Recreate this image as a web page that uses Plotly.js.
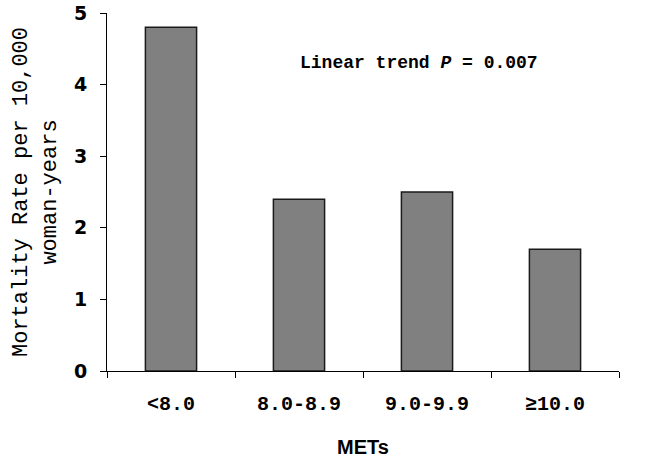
<!DOCTYPE html>
<html>
<head>
<meta charset="utf-8">
<script src="https://cdn.plot.ly/plotly-3.0.1.min.js"></script>
<style>html,body{margin:0;padding:0;background:#fff;}</style>
</head>
<body>
<div id="chart" style="width:659px;height:462px;"></div>
<script>
const categories = ["<8.0", "8.0-8.9", "9.0-9.9", "≥10.0"];
const tickLabels = ["&lt;8.0", "8.0-8.9", "9.0-9.9", "≥10.0"];
const mortality = [4.8, 2.4, 2.5, 1.7];
const yTicks = [0, 1, 2, 3, 4, 5];

const data = [{
  type: "bar",
  x: categories,
  y: mortality,
  width: 0.4,
  marker: {color: "#808080", line: {color: "#1a1a1a", width: 1.5}},
  hoverinfo: "none"
}];

const layout = {
  width: 659, height: 462,
  margin: {l: 107, r: 40, t: 13, b: 91},
  paper_bgcolor: "#fff", plot_bgcolor: "#fff",
  showlegend: false,
  xaxis: {
    type: "category",
    tickvals: categories,
    ticktext: tickLabels,
    tickson: "boundaries",
    ticks: "outside", ticklen: 6, tickcolor: "#000", tickwidth: 1,
    ticklabelstandoff: 14,
    showline: true, linecolor: "#000", linewidth: 1,
    showgrid: false, zeroline: false,
    tickfont: {family: "Liberation Mono, Courier New, monospace", size: 20, color: "#000", weight: "bold"},
    title: {text: "METs", font: {family: "Liberation Sans, Arial, sans-serif", size: 20, color: "#000", weight: "bold"}, standoff: 24}
  },
  yaxis: {
    range: [0, 5],
    tickvals: yTicks,
    ticks: "outside", ticklen: 6, tickcolor: "#000", tickwidth: 1,
    ticklabelstandoff: 9,
    showline: true, linecolor: "#000", linewidth: 1,
    showgrid: false, zeroline: false,
    tickfont: {family: "DejaVu Sans, Arial, sans-serif", size: 19, color: "#000", weight: "bold"},
    title: {text: "Mortality Rate per 10,000<br>woman-years", font: {family: "Liberation Mono, Courier New, monospace", size: 22, color: "#000"}, standoff: 11}
  },
  annotations: [{
    xref: "paper", yref: "paper",
    x: 0.609, y: 0.86, xanchor: "center", yanchor: "middle",
    text: "Linear trend <i>P</i> = 0.007",
    showarrow: false,
    font: {family: "Liberation Mono, Courier New, monospace", size: 18, color: "#000", weight: "bold"}
  }]
};

Plotly.newPlot("chart", data, layout, {staticPlot: true, displayModeBar: false});
</script>
</body>
</html>
